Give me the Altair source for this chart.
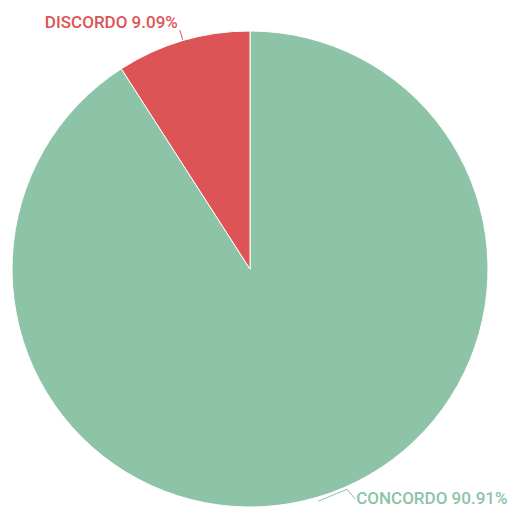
import math
import altair as alt
import pandas as pd

categories = ["CONCORDO", "DISCORDO"]
percentages = [90.91, 9.09]
colors = ["#8dc3a7", "#dc5456"]

CX, CY, R = 242, 261, 238

pie_df = pd.DataFrame({"categoria": categories, "pct": percentages, "orden": list(range(len(categories)))})

total = sum(percentages)
line_rows = []
label_rows = []
start = 0.0
for cat, p in zip(categories, percentages):
    mid = (start + p / 2) / total * 2 * math.pi
    start += p
    sx, sy = math.sin(mid), -math.cos(mid)
    label = f"{cat} {p:.2f}%"
    if sy > 0:
        p0 = (CX + (R + 4) * sx, CY + (R + 4) * sy)
        p1 = (p0[0] + 29, p0[1] - 12)
        p2 = (p1[0] + 8, p1[1] + 10)
        pts = [p0, p1, p2]
        label_rows.append({"categoria": cat, "label": label, "x": p2[0] + 1, "y": p2[1], "align": "left"})
    else:
        p0 = (CX + (R + 1) * sx, CY + (R + 1) * sy)
        p1 = (CX + (R + 11) * sx, CY + (R + 11) * sy)
        pts = [p0, p1]
        label_rows.append({"categoria": cat, "label": label, "x": p1[0] - 2, "y": p1[1] - 2, "align": "right"})
    for i, (x, y) in enumerate(pts):
        line_rows.append({"categoria": cat, "step": i, "x": x, "y": y})

lines_df = pd.DataFrame(line_rows)
labels_df = pd.DataFrame(label_rows)

color_scale = alt.Scale(domain=categories, range=colors)

pie = alt.Chart(pie_df).mark_arc(outerRadius=R, stroke="white", strokeWidth=1, x=CX, y=CY).encode(
    theta=alt.Theta("pct:Q", stack=True),
    color=alt.Color("categoria:N", scale=color_scale, legend=None),
    order=alt.Order("orden:Q"),
)

leaders = alt.Chart(lines_df).mark_line(strokeWidth=1).encode(
    x=alt.X("x:Q", scale=None, axis=None),
    y=alt.Y("y:Q", scale=None, axis=None),
    detail="categoria:N",
    order="step:Q",
    color=alt.Color("categoria:N", scale=color_scale, legend=None),
)

def text_layer(align):
    base = "middle" if align == "left" else "alphabetic"
    return alt.Chart(labels_df[labels_df["align"] == align]).mark_text(
        align=align, baseline=base, font="Roboto", fontSize=17, fontWeight=500
    ).encode(
        x=alt.X("x:Q", scale=None, axis=None),
        y=alt.Y("y:Q", scale=None, axis=None),
        text="label:N",
        color=alt.Color("categoria:N", scale=color_scale, legend=None),
    )

chart = alt.layer(pie, leaders, text_layer("left"), text_layer("right")).properties(
    width=501, height=503, autosize="none", padding=0, background="white"
).configure_view(stroke=None)

chart.save("out.html", embed_options={"renderer": "svg", "actions": False})
